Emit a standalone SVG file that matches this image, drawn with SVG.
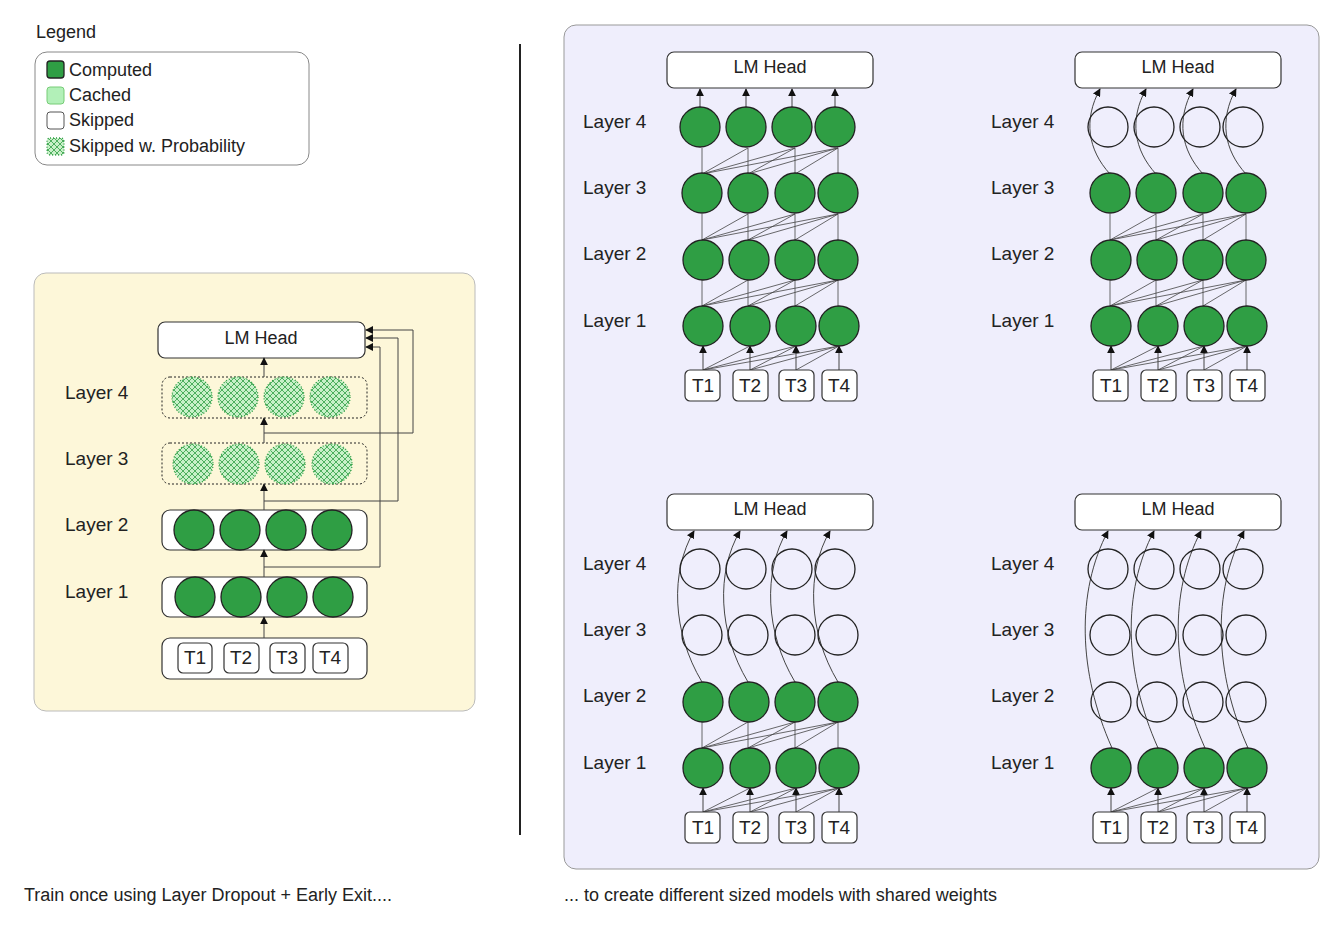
<svg xmlns="http://www.w3.org/2000/svg" xmlns:xlink="http://www.w3.org/1999/xlink" width="1344" height="930" viewBox="0 0 1344 930">
<style>
text{font-family:"Liberation Sans",Arial,sans-serif;fill:#222}
.lbl{font-size:19px}
.box{fill:#fff;stroke:#333;stroke-width:1.2}
.head{fill:#fff;stroke:#333;stroke-width:1.2}
.comp{fill:#2f9e44;stroke:#222;stroke-width:1.3}
.skip{fill:none;stroke:#222;stroke-width:1.3}
.prob{fill:url(#hatch);stroke:#2f9e44;stroke-width:1.3;stroke-dasharray:1 2}
.ln{stroke:#444;stroke-width:0.8;fill:none}
.ar{stroke:#444;stroke-width:1;fill:none;marker-end:url(#arr)}
.tok{fill:#fff;stroke:#333;stroke-width:1.2}
.tt{font-size:19px;text-anchor:middle}
</style>
<defs>
<marker id="arr" viewBox="0 0 10 10" refX="9" refY="5" markerWidth="8" markerHeight="8" markerUnits="userSpaceOnUse" orient="auto"><path d="M0,0 L10,5 L0,10 z" fill="#111"/></marker>
<pattern id="hatch" width="6" height="6" patternUnits="userSpaceOnUse">
<rect width="6" height="6" fill="#c8f0c8"/>
<path d="M0,0 L6,6 M6,0 L0,6" stroke="#2f9e44" stroke-width="0.8"/>
</pattern>
<g id="lk">
<line class="ln" x1="702" y1="0" x2="702" y2="-26"/><line class="ln" x1="748" y1="0" x2="748" y2="-26"/><line class="ln" x1="795" y1="0" x2="795" y2="-26"/><line class="ln" x1="838" y1="0" x2="838" y2="-26"/>
<line class="ln" x1="702" y1="0" x2="748" y2="-26"/><line class="ln" x1="702" y1="0" x2="795" y2="-26"/><line class="ln" x1="702" y1="0" x2="838" y2="-26"/>
<line class="ln" x1="748" y1="0" x2="795" y2="-26"/><line class="ln" x1="748" y1="0" x2="838" y2="-26"/><line class="ln" x1="795" y1="0" x2="838" y2="-26"/>
</g>
<g id="tk">
<line class="ar" x1="703" y1="370" x2="703" y2="346"/><line class="ar" x1="750" y1="370" x2="750" y2="346"/><line class="ar" x1="796" y1="370" x2="796" y2="346"/><line class="ar" x1="839" y1="370" x2="839" y2="346"/>
<line class="ln" x1="703" y1="370" x2="750" y2="346"/><line class="ln" x1="703" y1="370" x2="796" y2="346"/><line class="ln" x1="703" y1="370" x2="839" y2="346"/>
<line class="ln" x1="750" y1="370" x2="796" y2="346"/><line class="ln" x1="750" y1="370" x2="839" y2="346"/><line class="ln" x1="796" y1="370" x2="839" y2="346"/>
</g>
<g id="toks">
<rect class="tok" x="685" y="370" width="35" height="31" rx="5"/><text class="tt" x="703" y="392">T1</text>
<rect class="tok" x="733" y="370" width="35" height="31" rx="5"/><text class="tt" x="750" y="392">T2</text>
<rect class="tok" x="779" y="370" width="35" height="31" rx="5"/><text class="tt" x="796" y="392">T3</text>
<rect class="tok" x="822" y="370" width="35" height="31" rx="5"/><text class="tt" x="839" y="392">T4</text>
</g>
<g id="labels">
<text class="lbl" x="583" y="128">Layer 4</text><text class="lbl" x="583" y="194">Layer 3</text><text class="lbl" x="583" y="260">Layer 2</text><text class="lbl" x="583" y="327">Layer 1</text>
<rect class="head" x="667" y="52" width="206" height="36" rx="7"/><text class="lbl" x="770" y="73" text-anchor="middle" style="font-size:18px">LM Head</text>
</g>
</defs>

<rect x="34" y="273" width="441" height="438" rx="12" fill="#fdf7d9" stroke="#bbb"/>
<rect x="564" y="25" width="755" height="844" rx="12" fill="#efeefc" stroke="#999"/>
<line x1="520" y1="44" x2="520" y2="835" stroke="#222" stroke-width="2"/>

<g id="legend">
<text x="36" y="38" style="font-size:18px">Legend</text>
<rect x="35" y="52" width="274" height="113" rx="12" fill="#fff" stroke="#888"/>
<rect x="47" y="61" width="17" height="17" rx="3" class="comp"/><text x="69" y="76" style="font-size:18px">Computed</text>
<rect x="47" y="87" width="17" height="17" rx="3" fill="#b2f0b8" stroke="#7c7"/><text x="69" y="101" style="font-size:18px">Cached</text>
<rect x="47" y="112" width="17" height="17" rx="3" fill="#fff" stroke="#555"/><text x="69" y="126" style="font-size:18px">Skipped</text>
<rect x="47" y="138" width="17" height="17" rx="3" class="prob"/><text x="69" y="152" style="font-size:18px">Skipped w. Probability</text>
</g>

<g id="left-model">
<text class="lbl" x="65" y="399">Layer 4</text><text class="lbl" x="65" y="465">Layer 3</text><text class="lbl" x="65" y="531">Layer 2</text><text class="lbl" x="65" y="598">Layer 1</text>
<rect class="head" x="158" y="322" width="207" height="36" rx="7"/><text x="261" y="344" text-anchor="middle" style="font-size:18px">LM Head</text>
<rect x="162" y="377" width="205" height="41" rx="8" fill="none" stroke="#222" stroke-dasharray="2 2"/>
<circle class="prob" cx="192" cy="397" r="20"/><circle class="prob" cx="238" cy="397" r="20"/><circle class="prob" cx="284" cy="397" r="20"/><circle class="prob" cx="330" cy="397" r="20"/>
<rect x="162" y="443" width="205" height="41" rx="8" fill="none" stroke="#222" stroke-dasharray="2 2"/>
<circle class="prob" cx="193" cy="464" r="20"/><circle class="prob" cx="239" cy="464" r="20"/><circle class="prob" cx="285" cy="464" r="20"/><circle class="prob" cx="332" cy="464" r="20"/>
<rect class="box" x="162" y="510" width="205" height="40" rx="8"/>
<circle class="comp" cx="194" cy="530" r="20"/><circle class="comp" cx="240" cy="530" r="20"/><circle class="comp" cx="286" cy="530" r="20"/><circle class="comp" cx="332" cy="530" r="20"/>
<rect class="box" x="162" y="577" width="205" height="40" rx="8"/>
<circle class="comp" cx="195" cy="597" r="20"/><circle class="comp" cx="241" cy="597" r="20"/><circle class="comp" cx="287" cy="597" r="20"/><circle class="comp" cx="333" cy="597" r="20"/>
<rect class="box" x="162" y="638" width="205" height="41" rx="8"/>
<rect class="tok" x="178" y="643" width="34" height="30" rx="5"/><text class="tt" x="195" y="664">T1</text>
<rect class="tok" x="224" y="643" width="35" height="30" rx="5"/><text class="tt" x="241" y="664">T2</text>
<rect class="tok" x="270" y="643" width="35" height="30" rx="5"/><text class="tt" x="287" y="664">T3</text>
<rect class="tok" x="313" y="643" width="35" height="30" rx="5"/><text class="tt" x="330" y="664">T4</text>
</g>

<g id="connectors">
<line class="ar" x1="264" y1="638" x2="264" y2="617"/>
<line class="ar" x1="264" y1="577" x2="264" y2="550"/>
<line class="ar" x1="264" y1="510" x2="264" y2="484"/>
<line class="ar" x1="264" y1="443" x2="264" y2="418"/>
<line class="ar" x1="264" y1="377" x2="264" y2="358"/>
<path class="ar" d="M264,567 H380 V347 H366"/>
<path class="ar" d="M264,501 H398 V338 H366"/>
<path class="ar" d="M264,433 H413 V330 H366"/>

<use href="#tk"/><use href="#lk" transform="translate(0,306)"/><use href="#lk" transform="translate(0,240)"/><use href="#lk" transform="translate(0,174)"/>
<line class="ar" x1="700" y1="107" x2="700" y2="89"/><line class="ar" x1="746" y1="107" x2="746" y2="89"/><line class="ar" x1="792" y1="107" x2="792" y2="89"/><line class="ar" x1="835" y1="107" x2="835" y2="89"/>

<g transform="translate(408,0)">
<use href="#tk"/><use href="#lk" transform="translate(0,306)"/><use href="#lk" transform="translate(0,240)"/>
<path class="ar" d="M702,174 C680,150 675,120 692,89"/><path class="ar" d="M748,174 C726,150 721,120 738,89"/><path class="ar" d="M795,174 C773,150 768,120 785,89"/><path class="ar" d="M838,174 C816,150 811,120 828,89"/>
</g>
<g transform="translate(0,442)">
<use href="#tk"/><use href="#lk" transform="translate(0,306)"/>
<path class="ar" d="M702,240 C672,190 670,130 694,89"/><path class="ar" d="M748,240 C718,190 716,130 740,89"/><path class="ar" d="M795,240 C765,190 763,130 787,89"/><path class="ar" d="M838,240 C808,190 806,130 830,89"/>
</g>
<g transform="translate(408,442)">
<use href="#tk"/>
<path class="ar" d="M704,306 C670,230 668,150 700,89"/><path class="ar" d="M750,306 C716,230 714,150 746,89"/><path class="ar" d="M797,306 C763,230 761,150 793,89"/><path class="ar" d="M840,306 C806,230 804,150 836,89"/>
</g>
</g>

<g id="model-full">
<use href="#labels"/><use href="#toks"/>
<circle class="comp" cx="700" cy="127" r="20"/><circle class="comp" cx="746" cy="127" r="20"/><circle class="comp" cx="792" cy="127" r="20"/><circle class="comp" cx="835" cy="127" r="20"/>
<circle class="comp" cx="702" cy="193" r="20"/><circle class="comp" cx="748" cy="193" r="20"/><circle class="comp" cx="795" cy="193" r="20"/><circle class="comp" cx="838" cy="193" r="20"/>
<circle class="comp" cx="703" cy="260" r="20"/><circle class="comp" cx="749" cy="260" r="20"/><circle class="comp" cx="795" cy="260" r="20"/><circle class="comp" cx="838" cy="260" r="20"/>
<circle class="comp" cx="703" cy="326" r="20"/><circle class="comp" cx="750" cy="326" r="20"/><circle class="comp" cx="796" cy="326" r="20"/><circle class="comp" cx="839" cy="326" r="20"/>
</g>
<g id="model-3" transform="translate(408,0)">
<use href="#labels"/><use href="#toks"/>
<circle class="skip" cx="700" cy="127" r="20"/><circle class="skip" cx="746" cy="127" r="20"/><circle class="skip" cx="792" cy="127" r="20"/><circle class="skip" cx="835" cy="127" r="20"/>
<circle class="comp" cx="702" cy="193" r="20"/><circle class="comp" cx="748" cy="193" r="20"/><circle class="comp" cx="795" cy="193" r="20"/><circle class="comp" cx="838" cy="193" r="20"/>
<circle class="comp" cx="703" cy="260" r="20"/><circle class="comp" cx="749" cy="260" r="20"/><circle class="comp" cx="795" cy="260" r="20"/><circle class="comp" cx="838" cy="260" r="20"/>
<circle class="comp" cx="703" cy="326" r="20"/><circle class="comp" cx="750" cy="326" r="20"/><circle class="comp" cx="796" cy="326" r="20"/><circle class="comp" cx="839" cy="326" r="20"/>
</g>
<g id="model-2" transform="translate(0,442)">
<use href="#labels"/><use href="#toks"/>
<circle class="skip" cx="700" cy="127" r="20"/><circle class="skip" cx="746" cy="127" r="20"/><circle class="skip" cx="792" cy="127" r="20"/><circle class="skip" cx="835" cy="127" r="20"/>
<circle class="skip" cx="702" cy="193" r="20"/><circle class="skip" cx="748" cy="193" r="20"/><circle class="skip" cx="795" cy="193" r="20"/><circle class="skip" cx="838" cy="193" r="20"/>
<circle class="comp" cx="703" cy="260" r="20"/><circle class="comp" cx="749" cy="260" r="20"/><circle class="comp" cx="795" cy="260" r="20"/><circle class="comp" cx="838" cy="260" r="20"/>
<circle class="comp" cx="703" cy="326" r="20"/><circle class="comp" cx="750" cy="326" r="20"/><circle class="comp" cx="796" cy="326" r="20"/><circle class="comp" cx="839" cy="326" r="20"/>
</g>
<g id="model-1" transform="translate(408,442)">
<use href="#labels"/><use href="#toks"/>
<circle class="skip" cx="700" cy="127" r="20"/><circle class="skip" cx="746" cy="127" r="20"/><circle class="skip" cx="792" cy="127" r="20"/><circle class="skip" cx="835" cy="127" r="20"/>
<circle class="skip" cx="702" cy="193" r="20"/><circle class="skip" cx="748" cy="193" r="20"/><circle class="skip" cx="795" cy="193" r="20"/><circle class="skip" cx="838" cy="193" r="20"/>
<circle class="skip" cx="703" cy="260" r="20"/><circle class="skip" cx="749" cy="260" r="20"/><circle class="skip" cx="795" cy="260" r="20"/><circle class="skip" cx="838" cy="260" r="20"/>
<circle class="comp" cx="703" cy="326" r="20"/><circle class="comp" cx="750" cy="326" r="20"/><circle class="comp" cx="796" cy="326" r="20"/><circle class="comp" cx="839" cy="326" r="20"/>
</g>

<text x="24" y="901" style="font-size:18px">Train once using Layer Dropout + Early Exit....</text>
<text x="564" y="901" style="font-size:18px">... to create different sized models with shared weights</text>
</svg>
